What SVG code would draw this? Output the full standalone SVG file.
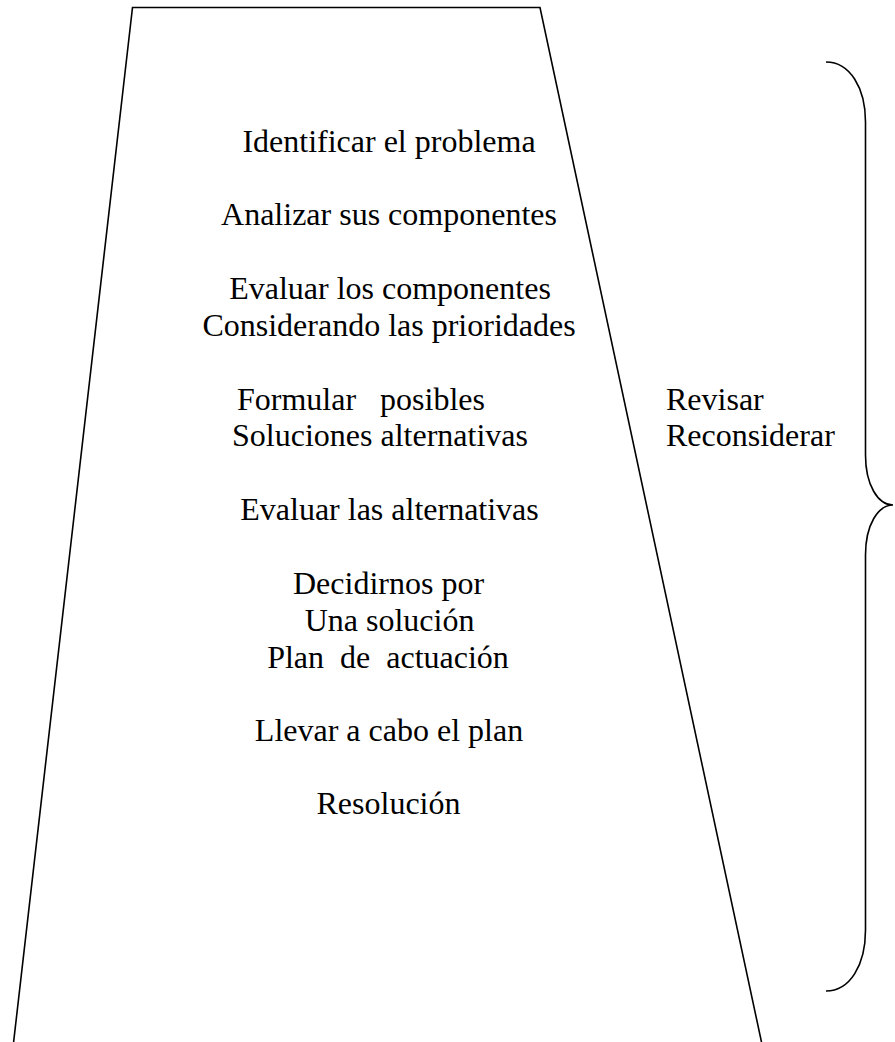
<svg xmlns="http://www.w3.org/2000/svg" width="895" height="1042" viewBox="0 0 895 1042">
<style>
.t{font-family:"Liberation Serif","Times New Roman",serif;font-size:32px;fill:#000}
.c{text-anchor:middle}
.ln{fill:none;stroke:#000;stroke-width:1.6}
</style>
<rect width="895" height="1042" fill="#fff"/>
<g id="trapezoid">
<polyline class="ln" points="13.5,1043 132.5,7.5 540,7.5 761.7,1043" stroke-linejoin="miter"/>
</g>
<g id="steps">
<text class="t c" x="389" y="152">Identificar el problema</text>
<text class="t c" x="389" y="225">Analizar sus componentes</text>
<text class="t c" x="390" y="299">Evaluar los componentes</text>
<text class="t c" x="389" y="336">Considerando las prioridades</text>
<text class="t" x="237" y="410" xml:space="preserve">Formular   posibles</text>
<text class="t" x="232" y="446">Soluciones alternativas</text>
<text class="t c" x="389.5" y="520">Evaluar las alternativas</text>
<text class="t c" x="388.5" y="594">Decidirnos por</text>
<text class="t c" x="389.5" y="631">Una solución</text>
<text class="t c" x="388" y="668" xml:space="preserve">Plan  de  actuación</text>
<text class="t c" x="389" y="741">Llevar a cabo el plan</text>
<text class="t c" x="388.5" y="814">Resolución</text>
</g>
<g id="review">
<text class="t" x="666" y="410">Revisar</text>
<text class="t" x="666" y="446">Reconsiderar</text>
</g>
<g id="brace">
<path class="ln" d="M826,62 C850,62 865.5,88 865.5,122 L865.5,455 C865.5,485 878,505 893,505 C878,505 865.5,525 865.5,555 L865.5,930 C865.5,965 850,991 826,991"/>
</g>
</svg>
